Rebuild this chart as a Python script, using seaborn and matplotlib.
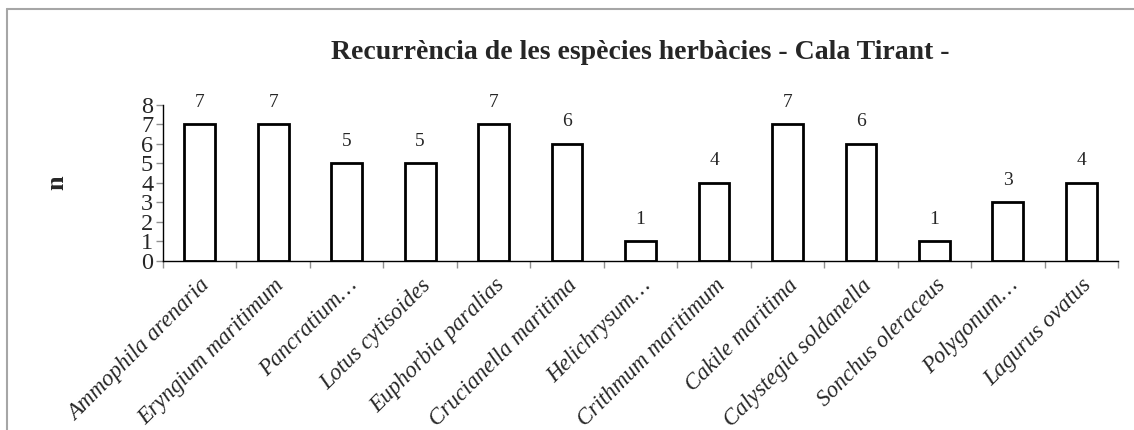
import matplotlib
matplotlib.use('Agg')
import matplotlib.pyplot as plt
import seaborn as sns
from matplotlib.lines import Line2D

species = ['Ammophila arenaria', 'Eryngium maritimum', 'Pancratium…', 'Lotus cytisoides',
           'Euphorbia paralias', 'Crucianella maritima', 'Helichrysum…', 'Crithmum maritimum',
           'Cakile maritima', 'Calystegia soldanella', 'Sonchus oleraceus', 'Polygonum…',
           'Lagurus ovatus']
counts = [7, 7, 5, 5, 7, 6, 1, 4, 7, 6, 1, 3, 4]
yticks = [0, 1, 2, 3, 4, 5, 6, 7, 8]

sns.set_style('white')
plt.rcParams['font.family'] = ['Liberation Serif', 'DejaVu Serif']

fig = plt.figure(figsize=(11.34, 4.3), dpi=100)
ax = fig.add_axes([0.1437, 0.393, 0.8423, 0.363])

sns.barplot(x=species, y=counts, color='white', edgecolor='black', linewidth=2,
            width=0.42, ax=ax, saturation=1)

ax.bar_label(ax.containers[0], padding=10, fontsize=14)

ax.set_ylim(0, 8)
ax.set_xlim(-0.5, len(species) - 0.5)
ax.set_yticks(yticks)
ax.set_yticklabels([str(v) for v in yticks], fontsize=17.5)
ax.set_xticks(range(len(species)))
ax.set_xticklabels(species, rotation=45, ha='right', rotation_mode='anchor',
                   fontsize=16.5, style='italic')
ax.set_xticks([i - 0.5 for i in range(len(species) + 1)], minor=True)
ax.tick_params(axis='x', which='major', length=0, pad=10)
ax.tick_params(axis='x', which='minor', length=5, color='#909090', width=1, direction='out', bottom=True)
ax.tick_params(axis='y', which='major', length=5, color='#909090', width=1, direction='out', left=True, pad=2)

for s in ['top', 'right']:
    ax.spines[s].set_visible(False)
for s in ['left', 'bottom']:
    ax.spines[s].set_color('black')
    ax.spines[s].set_linewidth(1)

ax.set_ylabel('n', fontsize=19, fontweight='bold', labelpad=52)
ax.set_title('Recurrència de les espècies herbàcies - Cala Tirant -', fontsize=20,
             fontweight='bold', pad=33)

# chart area border (top and left)
fig.add_artist(Line2D([7 / 1134, 1.0], [1 - 9 / 430, 1 - 9 / 430], color='#a6a6a6', lw=1.5))
fig.add_artist(Line2D([7 / 1134, 7 / 1134], [0.0, 1 - 9 / 430], color='#a6a6a6', lw=1.5))

fig.savefig('out.png', dpi=100)
